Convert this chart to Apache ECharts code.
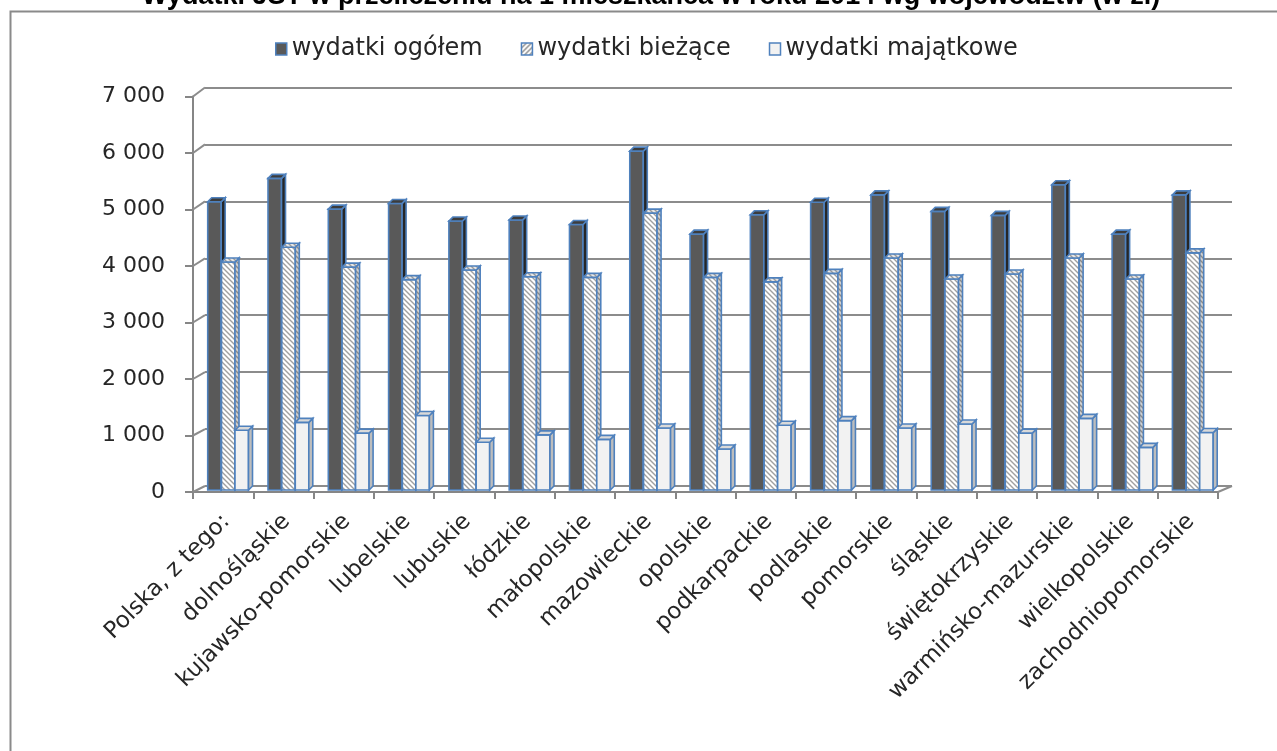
<!DOCTYPE html>
<html>
<head>
<meta charset="utf-8">
<script src="https://cdn.jsdelivr.net/npm/echarts@6/dist/echarts.min.js"></script>
<style>html,body{margin:0;padding:0;background:#fff}#c{width:1277px;height:751px}</style>
</head>
<body>
<div id="c"></div>
<script>
const titleText = 'Wydatki JST w przeliczeniu na 1 mieszkańca w roku 2014 wg województw (w zł)';
const categories = ['Polska, z tego:', 'dolnośląskie', 'kujawsko-pomorskie', 'lubelskie', 'lubuskie', 'łódzkie', 'małopolskie', 'mazowieckie', 'opolskie', 'podkarpackie', 'podlaskie', 'pomorskie', 'śląskie', 'świętokrzyskie', 'warmińsko-mazurskie', 'wielkopolskie', 'zachodniopomorskie'];
const seriesNames = ['wydatki ogółem', 'wydatki bieżące', 'wydatki majątkowe'];
const ogolem = [5070, 5480, 4940, 5040, 4730, 4750, 4670, 5960, 4500, 4840, 5060, 5190, 4900, 4830, 5370, 4500, 5190];
const biezace = [4010, 4270, 3920, 3700, 3870, 3750, 3740, 4870, 3740, 3660, 3810, 4080, 3710, 3800, 4080, 3710, 4170];
const majatkowe = [1050, 1190, 1000, 1310, 840, 970, 890, 1090, 720, 1140, 1220, 1090, 1160, 1000, 1260, 750, 1010];
const yTicks = [0, 1000, 2000, 3000, 4000, 5000, 6000, 7000];

function hatch(bg, fg, dir) {
  const c = document.createElement('canvas');
  c.width = 5; c.height = 5;
  const g = c.getContext('2d');
  g.fillStyle = bg; g.fillRect(0, 0, 5, 5);
  g.strokeStyle = fg; g.lineWidth = 1.4;
  g.beginPath();
  if (dir === 'back') {
    g.moveTo(-1, -1); g.lineTo(6, 6);
    g.moveTo(-1, 4); g.lineTo(1, 6);
    g.moveTo(4, -1); g.lineTo(6, 1);
  } else {
    g.moveTo(-1, 6); g.lineTo(6, -1);
    g.moveTo(-1, 1); g.lineTo(1, -1);
    g.moveTo(4, 6); g.lineTo(6, 4);
  }
  g.stroke();
  return { image: c, repeat: 'repeat' };
}

const BLUE = '#4f81bd';
const styles = [
  { front: '#595959', side: '#262626', top: '#3c3c3c', off: 0.244 },
  { front: hatch('#ffffff', '#a0a0a0', 'back'), side: hatch('#cfcfcf', '#8a8a8a', 'back'), top: hatch('#e6e6e6', '#9a9a9a', 'back'), off: 0.4726 },
  { front: '#f2f2f2', side: '#bdbdbd', top: '#d9d9d9', off: 0.6965 }
];

function barRenderer(k) {
  const st = styles[k];
  return function (params, api) {
    const idx = api.value(0), v = api.value(1);
    const c = api.coord([idx, v]);
    const b = api.coord([idx, 0]);
    const bw = api.size([1, 0])[0];
    const s = c[0] - bw / 2;
    const left = s + st.off * bw;
    const w = 0.224 * bw;
    const d = 4;
    const lw = 1.6;
    return {
      type: 'group',
      children: [
        { type: 'rect', shape: { x: left, y: c[1], width: w, height: b[1] - c[1] },
          style: { fill: st.front, stroke: BLUE, lineWidth: lw } },
        { type: 'polygon', shape: { points: [[left + w, c[1]], [left + w + d, c[1] - d], [left + w + d, b[1] - d], [left + w, b[1]]] },
          style: { fill: st.side, stroke: BLUE, lineWidth: lw } },
        { type: 'polygon', shape: { points: [[left, c[1]], [left + d, c[1] - d], [left + w + d, c[1] - d], [left + w, c[1]]] },
          style: { fill: st.top, stroke: BLUE, lineWidth: lw } }
      ]
    };
  };
}

const seriesData = [ogolem, biezace, majatkowe];
const FONT = 'DejaVu Sans';
const AX = '#868686';

const chart = echarts.init(document.getElementById('c'), null, { renderer: 'canvas' });
const option = {
  animation: false,
  backgroundColor: '#ffffff',
  title: {
    text: titleText, left: 651, textAlign: 'center', top: -17, padding: 0,
    textStyle: { fontFamily: 'Liberation Sans', fontWeight: 'bold', fontSize: 27, color: '#000' }
  },
  graphic: [{
    type: 'rect', left: 8, top: 9, shape: { width: 1300, height: 800 },
    style: { fill: 'none', stroke: '#8a8a8a', lineWidth: 2 }, z: 0, silent: true
  }],
  legend: {
    left: 275, top: 37, padding: 0, itemWidth: 11, itemHeight: 12, itemGap: 38, icon: 'rect',
    textStyle: { fontFamily: FONT, fontSize: 24, color: '#262626', padding: [0, 0, 0, 0] },
    data: [
      { name: seriesNames[0], itemStyle: { color: '#595959', borderColor: BLUE, borderWidth: 1.5 } },
      { name: seriesNames[1], itemStyle: { color: hatch('#ffffff', '#8a8a8a', 'fwd'), borderColor: BLUE, borderWidth: 1.5 } },
      { name: seriesNames[2], itemStyle: { color: '#f2f2f2', borderColor: BLUE, borderWidth: 1.5 } }
    ]
  },
  grid: [
    { left: 193, top: 96.5, width: 1025, height: 395.5, outerBoundsMode: 'none' },
    { left: 205, top: 87.5, width: 1027, height: 398.5, outerBoundsMode: 'none' },
    { left: 193, top: 92, width: 1025, height: 398, outerBoundsMode: 'none' },
    { left: 196, top: 96.5, width: 1025, height: 395.5, outerBoundsMode: 'none' }
  ],
  xAxis: [
    { gridIndex: 0, type: 'category', data: categories,
      axisLine: { lineStyle: { color: AX, width: 2 } },
      axisTick: { show: true, interval: 0, length: 7, lineStyle: { color: AX, width: 2 } },
      axisLabel: { show: false }, splitLine: { show: false } },
    { gridIndex: 1, type: 'category', data: categories, show: false },
    { gridIndex: 2, type: 'category', data: categories, show: false },
    { gridIndex: 3, type: 'category', data: categories,
      axisLine: { show: false }, axisTick: { show: false },
      axisLabel: { interval: 0, rotate: 45, margin: 26, fontFamily: FONT, fontSize: 23, color: '#262626' } }
  ],
  yAxis: [
    { gridIndex: 0, type: 'value', min: 0, max: 7000, interval: 1000,
      axisLine: { show: true, lineStyle: { color: AX, width: 2 } },
      axisTick: { show: true, length: 8, lineStyle: { color: AX, width: 2 } },
      splitLine: { show: false },
      axisLabel: { margin: 28, fontFamily: FONT, fontSize: 22, color: '#262626',
        formatter: v => v === 0 ? '0' : (v / 1000) + ' 000' } },
    { gridIndex: 1, type: 'value', min: 0, max: 7000, interval: 1000,
      axisLine: { show: false }, axisTick: { show: false }, axisLabel: { show: false },
      splitLine: { show: true, lineStyle: { color: '#8c8c8c', width: 2 } } },
    { gridIndex: 2, type: 'value', min: 0, max: 7000, interval: 1000, show: false, splitLine: { show: false } },
    { gridIndex: 3, type: 'value', min: 0, max: 7000, show: false, splitLine: { show: false } }
  ],
  series: [
    {
      type: 'custom', name: 'diag', xAxisIndex: 1, yAxisIndex: 1, silent: true, z: 1,
      data: yTicks.map(v => [0, v]),
      renderItem: function (params, api) {
        const v = api.value(1);
        const p = api.coord([0, v]);
        const bw = api.size([1, 0])[0];
        const xb = p[0] - bw / 2;
        const dy = 6 + 3 * v / 7000;
        const children = [{ type: 'line', shape: { x1: xb, y1: p[1], x2: xb - 12, y2: p[1] + dy },
          style: { stroke: '#8c8c8c', lineWidth: 2 } }];
        if (v === 0) {
          const xr = xb + bw * categories.length;
          children.push({ type: 'line', shape: { x1: xr, y1: p[1], x2: xr - 14, y2: p[1] + dy },
            style: { stroke: '#8c8c8c', lineWidth: 2 } });
        }
        return { type: 'group', children };
      }
    }
  ].concat(seriesData.map((arr, k) => ({
    type: 'custom', name: seriesNames[k], xAxisIndex: 2, yAxisIndex: 2, z: 3 + k,
    data: arr.map((v, i) => [i, v]),
    encode: { x: 0, y: 1 },
    itemStyle: { color: k === 1 ? '#d0d0d0' : styles[k].front },
    renderItem: barRenderer(k)
  })))
};
chart.setOption(option);
</script>
</body>
</html>
